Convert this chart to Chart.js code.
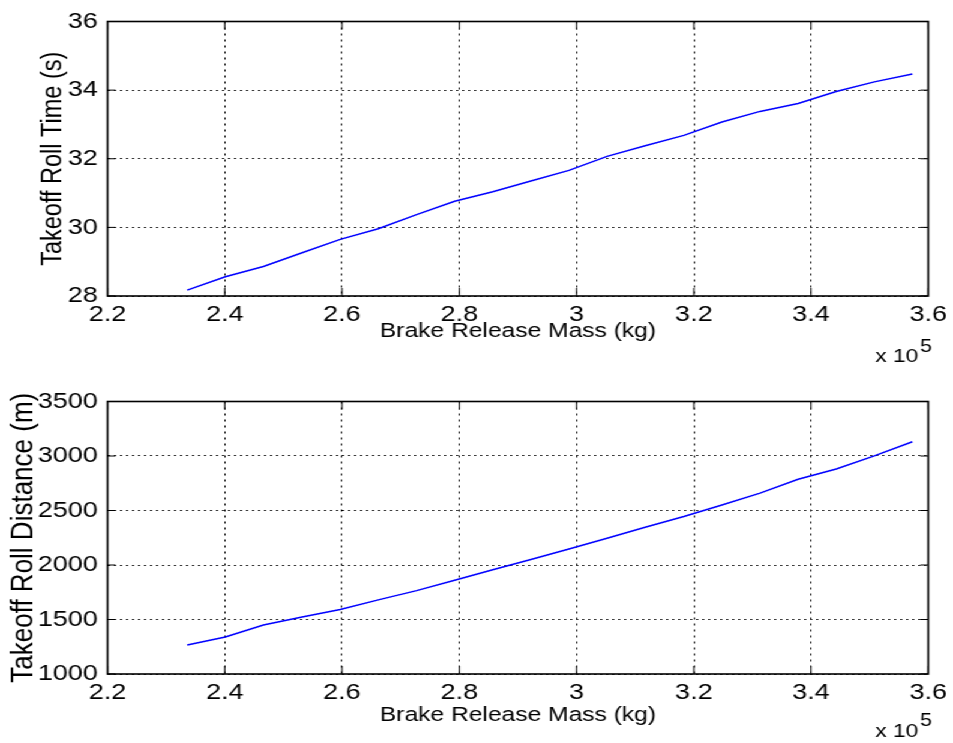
<!DOCTYPE html>
<html><head><meta charset="utf-8">
<script src="https://cdn.jsdelivr.net/npm/chart.js@4/dist/chart.umd.min.js"></script>
<style>
html,body{margin:0;padding:0;background:#fff;overflow:hidden;}
#wrap{position:absolute;left:0;top:0;width:794px;height:743px;transform:scaleX(1.2003);transform-origin:0 0;}
canvas{position:absolute;left:0;}
</style></head><body>
<div id="wrap">
<canvas id="c1" width="794" height="372" style="top:0px"></canvas>
<canvas id="c2" width="794" height="371" style="top:372px"></canvas>
</div>
<script>
// ---- data ----
const massKg = [233600, 240100, 246600, 253200, 259700, 266200, 272700, 279200, 285700, 292200,
                298700, 305200, 311700, 318300, 324800, 331300, 337800, 344300, 350800, 357300];
const rollTime = [28.17, 28.56, 28.86, 29.26, 29.65, 29.96, 30.37, 30.76, 31.04, 31.35,
                  31.66, 32.07, 32.38, 32.68, 33.07, 33.38, 33.61, 33.96, 34.24, 34.47];
const rollDistance = [1266, 1339, 1450, 1523, 1592, 1680, 1765, 1860, 1956, 2051,
                      2146, 2245, 2346, 2445, 2551, 2659, 2786, 2881, 3001, 3131];
const massTickRange = [220000, 360000, 20000];
const timeTickRange = [28, 36, 2];
const distTickRange = [1000, 3500, 500];
const xTitle = 'Brake Release Mass (kg)';
const yTitleTime = 'Takeoff Roll Time (s)';
const yTitleDist = 'Takeoff Roll Distance (m)';
const exponentLabel = ['x 10', '5'];

const FONT = '"Liberation Sans", Arial, Helvetica, sans-serif';

const framePlugin = {
  id: 'frame',
  afterDatasetsDraw(chart, args, opts) {
    const {ctx, chartArea: a, scales: {x, y}} = chart;
    ctx.save();
    ctx.strokeStyle = '#000';
    ctx.setLineDash([]);
    ctx.lineWidth = 1;
    ctx.beginPath();
    x.ticks.forEach(t => {
      const px = x.getPixelForValue(t.value);
      ctx.moveTo(px, a.bottom); ctx.lineTo(px, a.bottom - 8);
      ctx.moveTo(px, a.top); ctx.lineTo(px, a.top + 8);
    });
    y.ticks.forEach(t => {
      const py = y.getPixelForValue(t.value);
      ctx.moveTo(a.left, py); ctx.lineTo(a.left + 6.7, py);
      ctx.moveTo(a.right, py); ctx.lineTo(a.right - 6.7, py);
    });
    ctx.stroke();
    ctx.lineWidth = 1.6;
    ctx.strokeRect(a.left, a.top, a.right - a.left, a.bottom - a.top);
    ctx.fillStyle = '#000';
    ctx.textBaseline = 'alphabetic';
    ctx.font = '19px ' + FONT;
    ctx.textAlign = 'right';
    ctx.fillText(exponentLabel[0], a.right - 8.3, a.bottom + opts.expOffset);
    ctx.font = '18px ' + FONT;
    ctx.textAlign = 'left';
    ctx.fillText(exponentLabel[1], a.right - 6.9, a.bottom + opts.expOffset - 10.6);
    ctx.restore();
  }
};

function makeChart(id, values, yRange, yTitle, lay) {
  const points = massKg.map((m, i) => ({x: m, y: values[i]}));
  return new Chart(document.getElementById(id), {
    type: 'line',
    data: {datasets: [{data: points, borderColor: '#0000ff', borderWidth: 1.5,
      pointRadius: 0, tension: 0, fill: false}]},
    plugins: [framePlugin],
    options: {
      responsive: false, animation: false,
      layout: {padding: {top: lay.padTop, right: 16.5, left: 0, bottom: 0}},
      plugins: {legend: {display: false}, tooltip: {enabled: false},
        frame: {expOffset: lay.expOffset}},
      scales: {
        x: {
          type: 'linear', min: massTickRange[0], max: massTickRange[1],
          afterFit: s => { s.height = lay.xHeight; },
          ticks: {stepSize: massTickRange[2], color: '#000', padding: 5,
            font: {family: FONT, size: 22.5}, maxRotation: 0,
            callback: v => String(Number((v / 1e5).toFixed(1)))},
          grid: {color: '#000', lineWidth: 1, drawTicks: false},
          border: {display: false, dash: [2, 4]},
          title: {display: true, text: xTitle, color: '#000',
            font: {family: FONT, size: 20.5}, padding: {top: 0, bottom: lay.xTitlePad}}
        },
        y: {
          min: yRange[0], max: yRange[1],
          afterFit: s => { s.width = 89.6; },
          ticks: {stepSize: yRange[2], color: '#000', padding: 8,
            font: {family: FONT, size: 22.5}, callback: v => String(v)},
          grid: {color: '#000', lineWidth: 1, drawTicks: false},
          border: {display: false, dash: [1.67, 3.33]},
          title: {display: true, text: yTitle, color: '#000',
            font: {family: FONT, size: lay.yTitleSize}, padding: {top: lay.yTitlePad, bottom: 0}}
        }
      }
    }
  });
}

makeChart('c1', rollTime, timeTickRange, yTitleTime,
  {padTop: 21, xHeight: 76, xTitlePad: 28.7, expOffset: 66.3, yTitleSize: 23.5, yTitlePad: 30.9});
makeChart('c2', rollDistance, distTickRange, yTitleDist,
  {padTop: 29.5, xHeight: 69, xTitlePad: 14.9, expOffset: 62.7, yTitleSize: 26, yTitlePad: 4.4});
</script>
</body></html>
